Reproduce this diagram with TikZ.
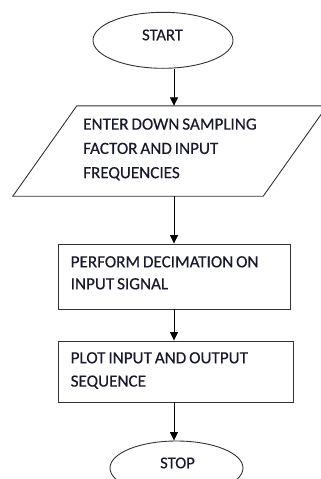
\documentclass[tikz,border=0pt]{standalone}
\usepackage{fontspec}
\setmainfont{Carlito}[WordSpace=0.75, FakeBold=0.4]
\usetikzlibrary{shapes.geometric,arrows.meta}
\definecolor{ink}{RGB}{25,25,45}
\definecolor{edge}{RGB}{50,50,50}
\begin{document}
\begin{tikzpicture}[x=1pt,y=-1pt,
  shapeline/.style={draw=edge, line width=0.9pt},
  term/.style={shapeline, ellipse, inner sep=0pt},
  procbox/.style={shapeline, rectangle, inner sep=0pt},
  lbl/.style={anchor=north west, inner sep=0pt, align=left, text=ink, font=\fontsize{17.1}{24.3}\selectfont},
  ctr/.style={anchor=north, inner sep=0pt, text=ink, font=\fontsize{16.6}{20}\selectfont},
  arr/.style={draw=black, line width=0.9pt, -{Triangle[length=8.5pt,width=8pt]}}]
\useasboundingbox (0,0) rectangle (321,479);
\clip (0,0) rectangle (321,479);
\coordinate (axis) at (174,0);
% shapes
\node[term, minimum width=140pt, minimum height=56pt] (start) at (163,40.3) {};
\node[ctr] (tstart) at (162.5,29.3) {START};
\node[minimum width=314pt, minimum height=90pt, inner sep=0pt] (input) at (170,151) {};
\draw[shapeline] ([xshift=64pt]input.north west) -- (input.north east) -- ([xshift=-64pt]input.south east) -- (input.south west) -- cycle;
\node[lbl] (tin) at (83,118.3) {ENTER DOWN SAMPLING\\FACTOR AND INPUT\\FREQUENCIES};
\node[procbox, minimum width=232pt, minimum height=65pt] (decim) at (174,276.5) {};
\node[lbl, font=\fontsize{17.1}{22}\selectfont] (tdec) at (70.5,256) {PERFORM DECIMATION ON\\INPUT SIGNAL};
\node[procbox, minimum width=235pt, minimum height=61pt] (plot) at (175.5,371.5) {};
\node[lbl, font=\fontsize{17.1}{23.3}\selectfont] (tplot) at (70.5,352) {PLOT INPUT AND OUTPUT\\SEQUENCE};
\node[term, minimum width=133pt, minimum height=54pt] (stop) at (176.5,468) {};
\node[ctr] (tstop) at (177.5,457.3) {STOP};
% connectors
\draw[arr] (start.south -| axis) -- (input.north -| axis);
\draw[arr] (input.south -| axis) -- (decim.north -| axis);
\draw[arr] (decim.south -| axis) -- (plot.north -| axis);
\draw[arr] (plot.south -| axis) -- (stop.north -| axis);
\end{tikzpicture}
\end{document}
